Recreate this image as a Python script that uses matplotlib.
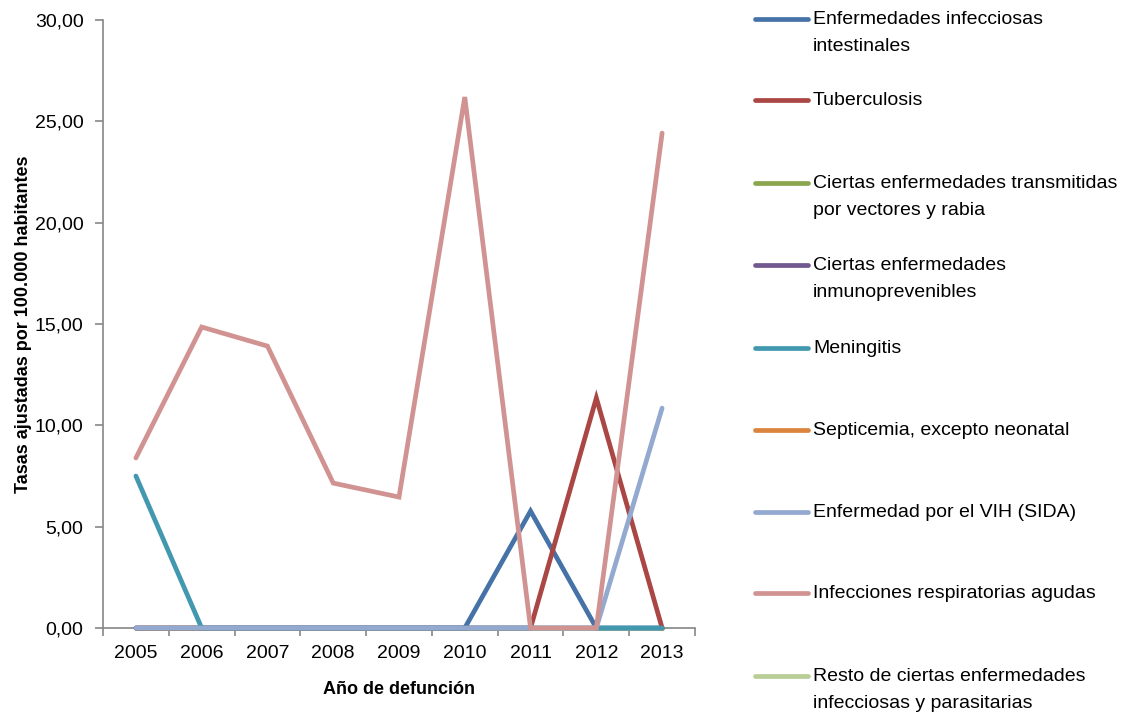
import matplotlib
matplotlib.use("Agg")
import matplotlib.pyplot as plt
from matplotlib.lines import Line2D
import numpy as np

plt.rcParams['font.family'] = ['Liberation Sans Narrow', 'Liberation Sans', 'DejaVu Sans']

years = ['2005', '2006', '2007', '2008', '2009', '2010', '2011', '2012', '2013']

series_names = [
    'Enfermedades infecciosas\nintestinales',
    'Tuberculosis',
    'Ciertas enfermedades transmitidas\npor vectores y rabia',
    'Ciertas enfermedades\ninmunoprevenibles',
    'Meningitis',
    'Septicemia, excepto neonatal',
    'Enfermedad por el VIH (SIDA)',
    'Infecciones respiratorias agudas',
    'Resto de ciertas enfermedades\ninfecciosas y parasitarias',
]

intestinales = [0, 0, 0, 0, 0, 0, 5.77, 0, 0]
tuberculosis = [0, 0, 0, 0, 0, 0, 0, 11.35, 0]
vectores = [0, 0, 0, 0, 0, 0, 0, 0, 0]
inmunoprevenibles = [0, 0, 0, 0, 0, 0, 0, 0, 0]
meningitis = [7.50, 0, 0, 0, 0, 0, 0, 0, 0]
septicemia = [0, 0, 0, 0, 0, 0, 0, 0, 0]
vih = [0, 0, 0, 0, 0, 0, 0, 0, 10.85]
respiratorias = [8.39, 14.85, 13.91, 7.15, 6.46, 26.20, 0, 0, 24.42]
resto = [0, 0, 0, 0, 0, 0, 0, 0, 0]

series_values = [intestinales, tuberculosis, vectores, inmunoprevenibles,
                 meningitis, septicemia, vih, respiratorias, resto]

colors = ['#4572A7', '#AA4643', '#89A54E', '#71588F', '#4198AF',
          '#DB843D', '#93A9CF', '#D19392', '#B9CD96']
# series that are all zero sit underneath the visible ones
zorders = [5, 6, 2, 2, 7, 2, 8, 9, 2]

fig = plt.figure(figsize=(11.23, 7.15), dpi=100)
ax = fig.add_axes([103 / 1123, 87 / 715, (695 - 103) / 1123, (628 - 20) / 715])

x = np.arange(len(years))
for vals, c, z in zip(series_values, colors, zorders):
    ax.plot(x, vals, color=c, lw=3.4, solid_capstyle='round',
            solid_joinstyle='miter', zorder=z, clip_on=False)

ax.set_xlim(-0.5, len(years) - 0.5)
ax.set_ylim(0, 30)
ax.set_yticks(np.arange(0, 31, 5))
ax.set_yticklabels([f"{v:.2f}".replace('.', ',') for v in np.arange(0, 31, 5)])
ax.set_xticks(x)
ax.set_xticklabels(years)
ax.set_xticks(np.arange(-0.5, len(years), 1), minor=True)
ax.tick_params(axis='x', which='major', length=0, pad=12, labelsize=14)
ax.tick_params(axis='x', which='minor', length=6, color='#868686', width=1.2)
ax.tick_params(axis='y', length=6, color='#868686', width=1.2, labelsize=14, pad=8)

for s in ['top', 'right']:
    ax.spines[s].set_visible(False)
for s in ['left', 'bottom']:
    ax.spines[s].set_color('#868686')
    ax.spines[s].set_linewidth(1.2)

ax.set_xlabel('Año de defunción', fontsize=13, fontweight='bold', labelpad=14)
ax.set_ylabel('Tasas ajustadas por 100.000 habitantes', fontsize=13,
              fontweight='bold', labelpad=2)

# legend drawn in figure pixel coordinates
W, H = 1123, 715
legend_y = [19, 100, 183, 265, 348, 430, 512, 593, 676]
for name, c, yy in zip(series_names, colors, legend_y):
    yf = 1 - yy / H
    fig.add_artist(Line2D([755 / W, 808 / W], [yf, yf], color=c, lw=3.4,
                          solid_capstyle='round', transform=fig.transFigure))
    fig.text(813 / W, yf + 8 / H, name, fontsize=14, va='top', ha='left',
             linespacing=1.75)

fig.savefig('out.png', dpi=100)
